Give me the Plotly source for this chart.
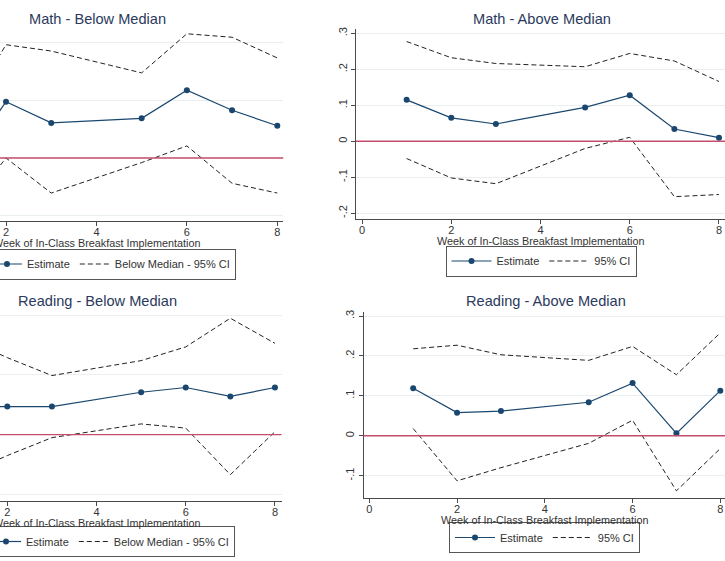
import plotly.graph_objects as go

W, H = 725, 561

# ---------------- data ----------------
weeks = [1, 2, 3, 5, 6, 7, 8]

math_below_est = [-0.016, 0.098, 0.061, 0.069, 0.118, 0.083, 0.056]
math_below_hi = [0.066, 0.197, 0.186, 0.148, 0.216, 0.210, 0.174]
math_below_lo = [-0.100, 0.000, -0.061, -0.008, 0.021, -0.044, -0.061]

math_above_est = [0.115, 0.065, 0.048, 0.094, 0.128, 0.034, 0.010]
math_above_hi = [0.277, 0.232, 0.216, 0.207, 0.244, 0.223, 0.166]
math_above_lo = [-0.048, -0.102, -0.118, -0.020, 0.011, -0.154, -0.148]

read_below_est = [0.047, 0.047, 0.047, 0.071, 0.079, 0.064, 0.079]
read_below_hi = [0.162, 0.129, 0.099, 0.124, 0.147, 0.195, 0.153]
read_below_lo = [-0.068, -0.035, -0.005, 0.018, 0.011, -0.067, 0.005]

read_above_est = [0.119, 0.058, 0.062, 0.084, 0.132, 0.006, 0.113]
read_above_hi = [0.218, 0.227, 0.203, 0.189, 0.224, 0.153, 0.258]
read_above_lo = [0.018, -0.113, -0.080, -0.019, 0.039, -0.138, -0.032]

x_ticks = [0, 2, 4, 6, 8]
y_ticks_math_above = [-0.2, -0.1, 0, 0.1, 0.2, 0.3]
y_ticks_read_above = [-0.1, 0, 0.1, 0.2, 0.3]
y_ticks_below = [-0.1, 0, 0.1, 0.2]
x_title = "Week of In-Class Breakfast Implementation"


def fmt(v):
    if abs(v) < 1e-9:
        return "0"
    s = f"{v:.1f}"
    return s.replace("0.", ".")


# ---------------- styling / layout (pixels) ----------------
FONT = "Liberation Sans, Arial, sans-serif"
NAVY = "#1a476f"
TITLE_C = "#2b3a5c"
TXT = "#333333"
AXC = "#4a4a4a"
GRID = "#e9efef"
RED = "#c64c6c"

panels = [
    dict(title="Math - Below Median", est=math_below_est, hi=math_below_hi, lo=math_below_lo,
         ci="Below Median - 95% CI", xpx=(0, 283.3), ypx=(30, 221), xr=(1.867, 8.133),
         yr=(-0.1096, 0.2226), yt=y_ticks_below, showy=False,
         tpos=(97, 19), apos=(96.5, 242.5), leg=(236, 264, "right"), iw=30),
    dict(title="Math - Above Median", est=math_above_est, hi=math_above_hi, lo=math_above_lo,
         ci="95% CI", xpx=(356, 725), ypx=(29.3, 219), xr=(-0.135, 8.135),
         yr=(-0.216, 0.311), yt=y_ticks_math_above, showy=True,
         tpos=(542, 19), apos=(540.5, 241), leg=(541, 261, "center"), iw=40),
    dict(title="Reading - Below Median", est=read_below_est, hi=read_below_hi, lo=read_below_lo,
         ci="Below Median - 95% CI", xpx=(0, 281.5), ypx=(310, 500.7), xr=(1.836, 8.147),
         yr=(-0.1106, 0.2088), yt=y_ticks_below, showy=False,
         tpos=(97.5, 300.5), apos=(96.5, 522.5), leg=(235, 541.5, "right"), iw=30),
    dict(title="Reading - Above Median", est=read_above_est, hi=read_above_hi, lo=read_above_lo,
         ci="95% CI", xpx=(363.7, 725), ypx=(311.7, 498), xr=(-0.128, 8.107),
         yr=(-0.156, 0.311), yt=y_ticks_read_above, showy=True,
         tpos=(545.7, 301), apos=(544.3, 519.5), leg=(544.5, 537.5, "center"), iw=40),
]

fig = go.Figure()
layout = dict(
    width=W, height=H, margin=dict(l=0, r=0, t=0, b=0, autoexpand=False),
    paper_bgcolor="white", plot_bgcolor="white", showlegend=True,
    font=dict(family=FONT, color=TXT, size=11),
    annotations=[], shapes=[],
)

for i, p in enumerate(panels, start=1):
    sfx = "" if i == 1 else str(i)
    xa, ya = f"x{sfx}", f"y{sfx}"
    leg = "legend" if i == 1 else f"legend{i}"

    fig.add_trace(go.Scatter(x=weeks, y=p["lo"], mode="lines", xaxis=xa, yaxis=ya,
                             line=dict(color="#222222", width=1, dash="5px,3px"),
                             showlegend=False, legend=leg, hoverinfo="skip"))
    fig.add_trace(go.Scatter(x=weeks, y=p["hi"], mode="lines", xaxis=xa, yaxis=ya,
                             name=p["ci"], legendrank=2,
                             line=dict(color="#222222", width=1, dash="5px,3px"),
                             showlegend=True, legend=leg))
    fig.add_trace(go.Scatter(x=weeks, y=p["est"], mode="lines+markers", xaxis=xa, yaxis=ya,
                             name="Estimate", legendrank=1,
                             line=dict(color=NAVY, width=1.2),
                             marker=dict(color=NAVY, size=6),
                             showlegend=True, legend=leg))

    layout[f"xaxis{sfx}"] = dict(
        domain=[p["xpx"][0] / W, p["xpx"][1] / W], range=list(p["xr"]), anchor=ya,
        tickvals=x_ticks, ticktext=[str(v) for v in x_ticks], ticks="outside", ticklen=4,
        tickcolor=AXC, tickwidth=1, showline=True, linecolor=AXC, linewidth=1,
        ticklabelstandoff=-3,
        showgrid=False, zeroline=False, tickfont=dict(size=11, color=TXT), fixedrange=True)
    layout[f"yaxis{sfx}"] = dict(
        domain=[1 - p["ypx"][1] / H, 1 - p["ypx"][0] / H], range=list(p["yr"]), anchor=xa,
        tickvals=p["yt"], ticktext=[fmt(v) for v in p["yt"]],
        ticks="outside" if p["showy"] else "", ticklen=4, tickcolor=AXC, tickwidth=1,
        showticklabels=p["showy"], tickangle=-90, showline=p["showy"], linecolor=AXC,
        linewidth=1, showgrid=True, gridcolor=GRID, gridwidth=1, zeroline=False,
        tickfont=dict(size=11, color=TXT), fixedrange=True)

    layout["shapes"].append(dict(type="line", xref=f"{xa} domain", yref=ya, x0=0, x1=1,
                                 y0=0, y1=0, line=dict(color=RED, width=1.3), layer="above"))

    layout["annotations"].append(dict(
        text=p["title"], x=p["tpos"][0] / W, y=1 - p["tpos"][1] / H, xref="paper", yref="paper",
        xanchor="center", yanchor="middle", showarrow=False,
        font=dict(family=FONT, size=14.6, color=TITLE_C)))
    layout["annotations"].append(dict(
        text=x_title, x=p["apos"][0] / W, y=1 - p["apos"][1] / H, xref="paper", yref="paper",
        xanchor="center", yanchor="middle", showarrow=False,
        font=dict(family=FONT, size=10.8, color=TXT)))

    lx, ly, anc = p["leg"]
    layout[leg] = dict(orientation="h", x=lx / W, y=1 - ly / H, xanchor=anc, yanchor="middle",
                       bordercolor="#555555", borderwidth=1, bgcolor="white",
                       itemwidth=p["iw"],
                       font=dict(family=FONT, size=11, color=TXT), traceorder="normal")

fig.update_layout(**layout)
fig.write_html("out.html")
